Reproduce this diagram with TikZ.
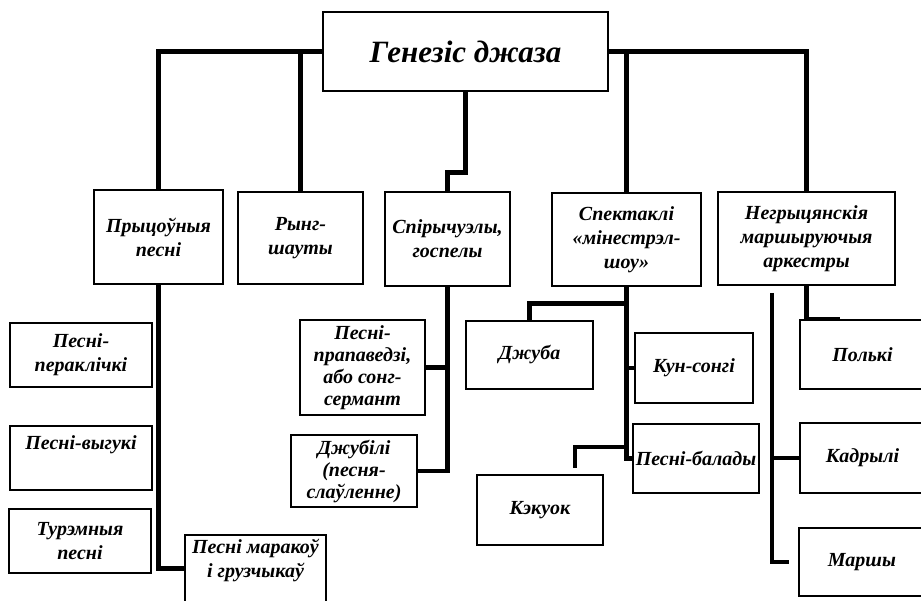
\documentclass[tikz,border=0pt]{standalone}
\usepackage{fontspec}
\setmainfont{Liberation Serif}
\begin{document}
\begin{tikzpicture}[
    x=1pt, y=-1pt,
    box/.style={draw, line width=1.5pt, align=center, inner sep=2pt,
                font=\fontsize{20}{24}\selectfont\bfseries\itshape},
    tight/.style={font=\fontsize{20}{22}\selectfont\bfseries\itshape},
    link/.style={line width=4.5pt}
  ]
    \useasboundingbox (0,0) rectangle (921,601);

    % top
    \node[box, minimum width=285pt, minimum height=79pt,
          font=\fontsize{31}{36}\selectfont\bfseries\itshape]
          (gen) at (465.5,51.5) {Генезіс джаза};

    % second row
    \node[box, minimum width=129pt, minimum height=94pt] (pryc)  at (158.5,237)   {Прыцоўныя\\песні};
    \node[box, minimum width=125pt, minimum height=92pt] (ryng)  at (300.5,238)   {Рынг-\\шауты};
    \node[box, minimum width=125pt, minimum height=94pt] (spir)  at (447.5,239)   {Спірычуэлы,\\госпелы};
    \node[box, minimum width=149pt, minimum height=93pt] (spekt) at (626.5,239.5) {Спектаклі\\«мінестрэл-\\шоу»};
    \node[box, minimum width=177pt, minimum height=93pt] (negr)  at (806.5,238.5) {Негрыцянскія\\маршыруючыя\\аркестры};

    % left column
    \node[box, minimum width=142pt, minimum height=64pt] (perak) at (81,355)   {Песні-\\пераклічкі};
    \node[box, minimum width=142pt, minimum height=64pt] (vyguk) at (81,458)   {Песні-выгукі\\ \strut};
    \node[box, minimum width=142pt, minimum height=64pt] (turem) at (80,541)   {Турэмныя\\песні};
    \node[box, minimum width=141pt, minimum height=77pt] (marak) at (255.5,573.5) {Песні маракоў\\і грузчыкаў\\ \strut};

    % spirituals
    \node[box, tight, minimum width=125pt, minimum height=95pt] (prop)  at (362.5,367.5) {Песні-\\прапаведзі,\\або сонг-\\сермант};
    \node[box, tight, minimum width=126pt, minimum height=72pt] (jubil) at (354,471)     {Джубілі\\(песня-\\слаўленне)};

    % minstrel show
    \node[box, minimum width=127pt, minimum height=68pt] (dzhuba) at (529.5,355) {Джуба};
    \node[box, minimum width=118pt, minimum height=70pt] (kun)    at (694,368)   {Кун-сонгі};
    \node[box, minimum width=126pt, minimum height=69pt] (balad)  at (696,458.5) {Песні-балады};
    \node[box, minimum width=126pt, minimum height=70pt] (kek)    at (540,510)   {Кэкуок};

    % marching bands
    \node[box, minimum width=125pt, minimum height=69pt] (polki) at (862.5,354.5) {Полькі};
    \node[box, minimum width=125pt, minimum height=70pt] (kadr)  at (862.5,458)   {Кадрылі};
    \node[box, minimum width=126pt, minimum height=68pt] (marsh) at (862,562)     {Маршы};

    \coordinate (kekbend) at (575,447);
    \coordinate (bandtop) at (772,293);

    \draw[link] (gen.west) -| (pryc.north);
    \draw[link] (ryng.north |- gen.west) -- (ryng.north);
    \draw[link] (gen.east) -| (negr.north);
    \draw[link] (spekt.north |- gen.east) -- (spekt.north);
    \draw[link] (gen.south) -- ++(0,81) -| (spir.north);

    \draw[link] (pryc.south) |- ([yshift=5pt]marak.west);

    \draw[link] (spir.south) |- (jubil.east);
    \draw[link] (spir.south |- prop.east) -- (prop.east);

    \draw[link] (spekt.south) |- (balad.west);
    \draw[link] (spekt.south |- kun.west) -- (kun.west);
    \draw[link] ([yshift=-17pt]spekt.south) -| (dzhuba.north);
    \draw[link] (spekt.south |- kekbend) -- (kekbend) -- ++(0,21);

    \draw[link] (negr.south) -- (negr.south |- polki.north) -- ++(33,0);
    \draw[link] (bandtop) |- ([xshift=-9pt]marsh.west);
    \draw[link] (bandtop |- kadr.west) -- (kadr.west);
  \end{tikzpicture}
\end{document}
